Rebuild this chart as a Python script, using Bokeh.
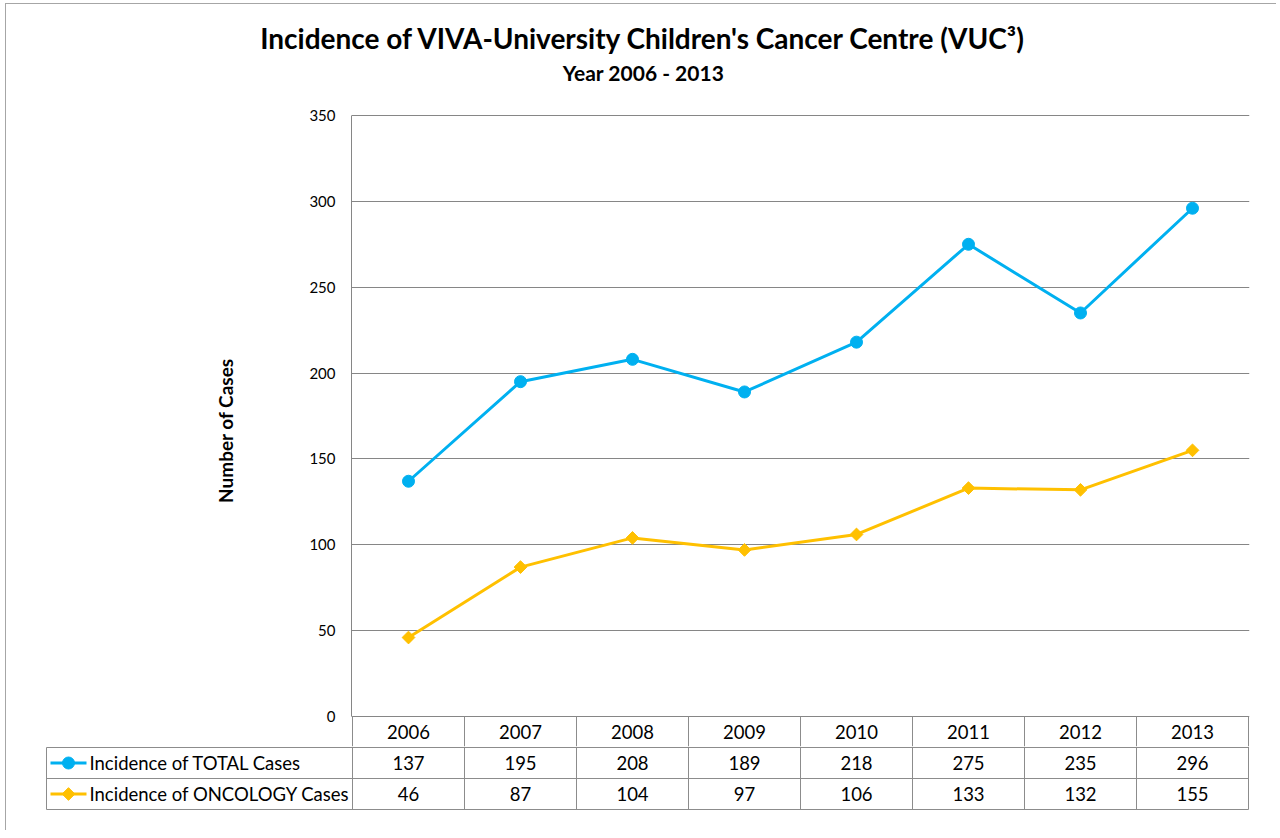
from bokeh.plotting import figure
from bokeh.models import Range1d, FixedTicker
from bokeh.layouts import column
from bokeh.embed import file_html
from bokeh.resources import INLINE
from bokeh.core.properties import value

years = ["2006", "2007", "2008", "2009", "2010", "2011", "2012", "2013"]
total_cases = [137, 195, 208, 189, 218, 275, 235, 296]
oncology_cases = [46, 87, 104, 97, 106, 133, 132, 155]
series_names = ["Incidence of TOTAL Cases", "Incidence of ONCOLOGY Cases"]
y_ticks = [0, 50, 100, 150, 200, 250, 300, 350]

title_text = "Incidence of VIVA-University Children's Cancer Centre (VUC\u00b3)"
subtitle_text = "Year 2006 - 2013"

FONT = "Lato"
BLUE = "#00B0F0"
GOLD = "#FFC000"
GRID = "#868686"
TABLE_LINE = "#8c8c8c"

# page geometry (content origin after the outer border)
OX, OY = 6, 4
W = 1270
PX_PER_CAT = 112.0
PX_PER_VAL = (716 - 115) / 350.0
xs = list(range(len(years)))
x_lo = -0.5
x_hi = len(years) - 0.5

# ---------------- title figure ----------------
TITLE_H = 96
tfig = figure(width=W, height=TITLE_H, output_backend="svg", toolbar_location=None,
              x_range=Range1d(0, W), y_range=Range1d(TITLE_H, 0), min_border=0,
              frame_align=False)
tfig.axis.visible = False
tfig.grid.visible = False
tfig.outline_line_color = None
tfig.text(x=[643 - OX], y=[37 - OY], text=[title_text], text_font=value(FONT),
          text_font_style="bold", text_font_size="28px", text_align="center",
          text_baseline="middle", text_color="#000000")
tfig.text(x=[643 - OX], y=[72 - OY], text=[subtitle_text], text_font=value(FONT),
          text_font_style="bold", text_font_size="21px", text_align="center",
          text_baseline="middle", text_color="#000000")

# ---------------- chart figure (includes the year header row) ----------------
chart_top = OY + TITLE_H            # page y of chart figure top
chart_bottom = 746                  # page y of chart frame bottom
frame_left = 351
frame_right = 1249
y_start = -(chart_bottom - 716) / PX_PER_VAL
y_end = 350 + 1 / PX_PER_VAL
p = figure(width=W, height=chart_bottom - chart_top, output_backend="svg",
           toolbar_location=None,
           x_range=Range1d(x_lo - 1 / PX_PER_CAT, x_hi + 1 / PX_PER_CAT),
           y_range=Range1d(y_start, y_end),
           min_border=0, min_border_left=frame_left - OX,
           min_border_right=(OX + W) - frame_right,
           min_border_top=114 - chart_top, min_border_bottom=0,
           frame_align=False)
p.outline_line_color = None
p.xaxis.visible = False
p.xgrid.visible = False
p.ygrid.ticker = FixedTicker(ticks=y_ticks)
p.ygrid.grid_line_color = GRID
p.ygrid.grid_line_width = 1
yax = p.yaxis[0]
yax.ticker = FixedTicker(ticks=y_ticks)
yax.bounds = (0, 350)
yax.axis_line_color = GRID
yax.major_tick_out = 0
yax.major_tick_in = 0
yax.minor_tick_out = 0
yax.minor_tick_in = 0
yax.major_label_standoff = 16
yax.major_label_text_font = FONT
yax.major_label_text_font_size = "15px"
yax.major_label_text_color = "#000000"
yax.axis_label = "Number of Cases"
yax.axis_label_text_font = FONT
yax.axis_label_text_font_style = "bold"
yax.axis_label_text_font_size = "19px"
yax.axis_label_text_color = "#000000"
yax.axis_label_standoff = 69

# category separators of the data table header row (below the zero line)
bounds = [x_lo + k for k in range(len(years) + 1)]
p.segment(x0=bounds, y0=[0] * len(bounds), x1=bounds, y1=[y_start] * len(bounds),
          line_color=TABLE_LINE, line_width=1)

tfont = dict(text_font=value(FONT), text_font_size="18.5px", text_color="#000000",
             text_baseline="middle")
y_head = -((716 + 747) / 2 - 716) / PX_PER_VAL
p.text(x=xs, y=[y_head] * len(xs), text=years, text_align="center", **tfont)

p.line(xs, total_cases, line_color=BLUE, line_width=3)
p.scatter(xs, total_cases, marker="circle", size=12, fill_color=BLUE, line_color=BLUE)
p.line(xs, oncology_cases, line_color=GOLD, line_width=3)
p.scatter(xs, oncology_cases, marker="square", angle=0.785398, size=9,
          fill_color=GOLD, line_color=GOLD)

# ---------------- data table figure (value rows) ----------------
TH = 830 - chart_bottom
t_left_page = 44
t_right_page = 1250
tx_lo = x_lo - (352 - t_left_page) / PX_PER_CAT
tx_hi = x_hi + (t_right_page - 1248) / PX_PER_CAT
tbl = figure(width=W, height=TH, output_backend="svg", toolbar_location=None,
             x_range=Range1d(tx_lo, tx_hi), y_range=Range1d(TH, 0), min_border=0,
             min_border_left=t_left_page - OX, min_border_right=(OX + W) - t_right_page,
             frame_align=False)
tbl.axis.visible = False
tbl.grid.visible = False
tbl.outline_line_color = None

r1, r2, r3 = 747 - chart_bottom, 778 - chart_bottom, 809 - chart_bottom
legend_left = tx_lo + (46 - t_left_page) / PX_PER_CAT
tbl.segment(x0=[legend_left] * 3, y0=[r1, r2, r3], x1=[x_hi] * 3, y1=[r1, r2, r3],
            line_color=TABLE_LINE, line_width=1)
tbl.segment(x0=bounds, y0=[0] * len(bounds), x1=bounds, y1=[r3] * len(bounds),
            line_color=TABLE_LINE, line_width=1)
tbl.segment(x0=[legend_left], y0=[r1], x1=[legend_left], y1=[r3],
            line_color=TABLE_LINE, line_width=1)

y_row1 = (r1 + r2) / 2
y_row2 = (r2 + r3) / 2
tbl.text(x=xs, y=[y_row1] * len(xs), text=[str(v) for v in total_cases],
         text_align="center", **tfont)
tbl.text(x=xs, y=[y_row2] * len(xs), text=[str(v) for v in oncology_cases],
         text_align="center", **tfont)

# legend keys inside the table
k0 = tx_lo + (50 - t_left_page) / PX_PER_CAT
k1 = tx_lo + (86 - t_left_page) / PX_PER_CAT
kc = (k0 + k1) / 2
tbl.segment(x0=[k0], y0=[y_row1], x1=[k1], y1=[y_row1], line_color=BLUE, line_width=3)
tbl.scatter([kc], [y_row1], marker="circle", size=12, fill_color=BLUE, line_color=BLUE)
tbl.segment(x0=[k0], y0=[y_row2], x1=[k1], y1=[y_row2], line_color=GOLD, line_width=3)
tbl.scatter([kc], [y_row2], marker="square", angle=0.785398, size=9,
            fill_color=GOLD, line_color=GOLD)
label_x = tx_lo + (89 - t_left_page) / PX_PER_CAT
tbl.text(x=[label_x, label_x], y=[y_row1, y_row2], text=series_names,
         text_align="left", **tfont)

layout = column(tfig, p, tbl, spacing=0,
                styles={"border-left": "1px solid #a6a6a6",
                        "border-top": "1px solid #a6a6a6",
                        "margin-left": "5px", "margin-top": "3px"})
open("out.html", "w").write(file_html(layout, INLINE))
